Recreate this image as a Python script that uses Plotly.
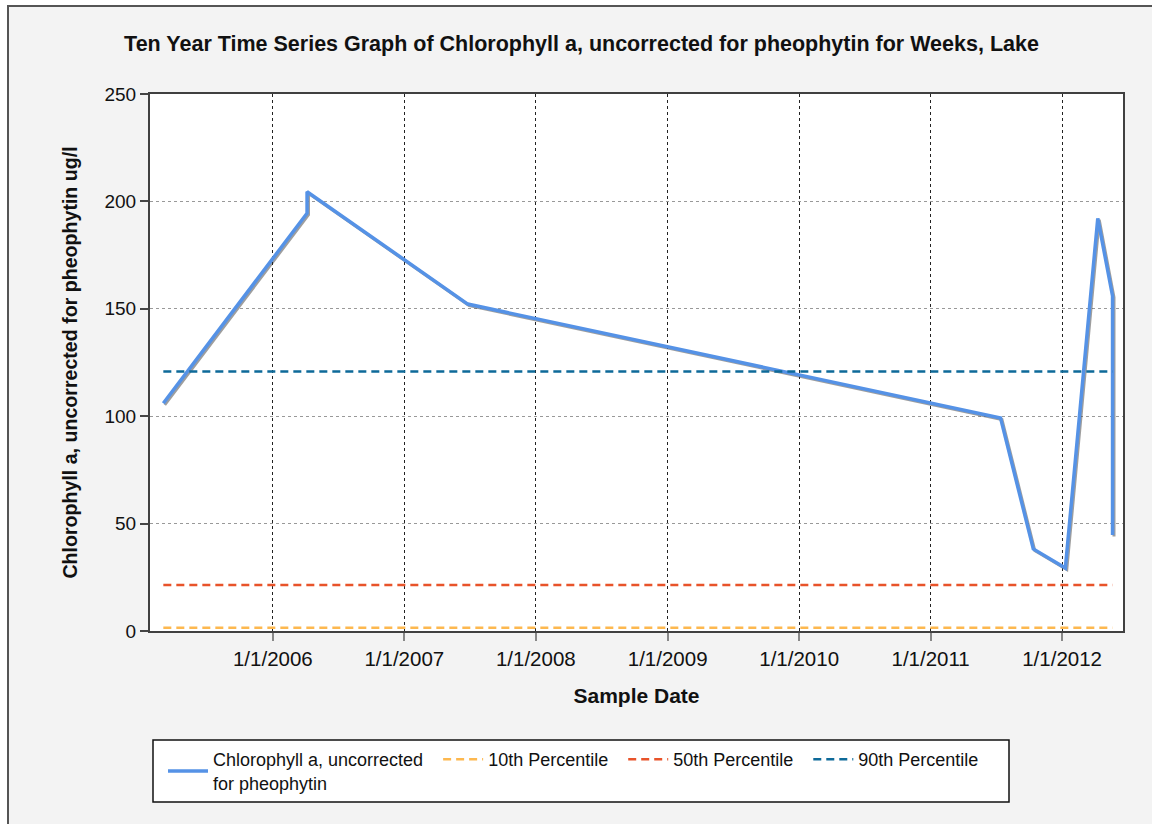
import plotly.graph_objects as go
import pandas as pd

# ---- data ----
dates = ["2005-03-03", "2006-04-06", "2006-04-06", "2007-06-26", "2011-07-14",
         "2011-10-13", "2012-01-10", "2012-04-09", "2012-05-20", "2012-05-20"]
chl = [106.0, 194.5, 204.5, 152.2, 99.2, 38.2, 29.3, 192.1, 156.0, 44.7]
p10 = 1.5
p50 = 21.4
p90 = 120.8
tick_dates = ["2006-01-01", "2007-01-01", "2008-01-01", "2009-01-01",
              "2010-01-01", "2011-01-01", "2012-01-01"]
tick_labels = ["1/1/2006", "1/1/2007", "1/1/2008", "1/1/2009",
               "1/1/2010", "1/1/2011", "1/1/2012"]
x_range = ["2005-01-25", "2012-06-18"]

FONT = "Liberation Sans, Arial, sans-serif"
BLUE = "#5592E6"
PAD = "\u00a0\u00a0"

d = pd.to_datetime(pd.Series(dates))
first, last = d.min(), d.max()

OX, OY = 7, 5          # page offset of the figure (white strip outside the frame)
W, H = 1152 - OX, 824 - OY
L, R, T, B = 150 - OX, 29, 94 - OY, 193
PW, PH = W - L - R, H - T - B


def px_x(x):  # page pixel -> paper x
    return (x - OX - L) / PW


def px_y(y):  # page pixel -> paper y
    return 1 - (y - OY - T) / PH


fig = go.Figure()

# soft drop shadow under the main series
fig.add_trace(go.Scatter(
    x=d + pd.Timedelta(days=4), y=[v - 0.7 for v in chl], mode="lines",
    line=dict(color="rgba(40,40,40,0.45)", width=3), showlegend=False, hoverinfo="skip"))

fig.add_trace(go.Scatter(
    x=d, y=chl, mode="lines", name="Chlorophyll a, uncorrected" + PAD + "<br>for pheophytin",
    line=dict(color=BLUE, width=3.5)))

for val, name, col in [(p10, "10th Percentile", "#FDB84F"),
                       (p50, "50th Percentile", "#E8532A"),
                       (p90, "90th Percentile", "#0E6A99")]:
    fig.add_trace(go.Scatter(
        x=[first, last], y=[val, val], mode="lines", name=name + PAD,
        line=dict(color=col, width=2.5, dash="8px,5px")))

fig.update_layout(
    width=W, height=H,
    margin=dict(l=L, r=R, t=T, b=B),
    paper_bgcolor="#F3F3F3", plot_bgcolor="white",
    font=dict(family=FONT, size=19, color="#111"),
    title=dict(text="<b>Ten Year Time Series Graph of Chlorophyll a, uncorrected for pheophytin for Weeks, Lake</b>",
               x=(581.5 - OX) / W, xanchor="center", xref="container", y=1 - (43 - OY) / H,
               yanchor="middle", font=dict(size=21.5, color="#111")),
    legend=dict(orientation="h", x=px_x(163), xanchor="left",
                y=px_y(741), yanchor="top",
                bgcolor="rgba(0,0,0,0)", borderwidth=0,
                font=dict(size=18, color="#111"), tracegroupgap=0,
                itemwidth=40),
    shapes=[
        # legend box
        dict(type="rect", xref="paper", yref="paper", x0=px_x(153), x1=px_x(1009),
             y0=px_y(740), y1=px_y(802), fillcolor="white", line=dict(color="#111", width=1.5),
             layer="below"),
        # outer frame (top and left)
        dict(type="line", xref="paper", yref="paper", x0=px_x(OX), x1=1.1,
             y0=px_y(OY + 1), y1=px_y(OY + 1), line=dict(color="#555", width=2)),
        dict(type="line", xref="paper", yref="paper", x0=px_x(OX + 1), x1=px_x(OX + 1),
             y0=1.2, y1=-0.4, line=dict(color="#555", width=2)),
    ],
)

fig.update_xaxes(
    type="date", range=x_range, tickvals=tick_dates, ticktext=tick_labels,
    tickfont=dict(size=20.5),
    showgrid=True, gridcolor="#222", griddash="dot", gridwidth=1,
    showline=True, linecolor="#404040", linewidth=2, mirror=True,
    ticks="outside", ticklen=8, tickcolor="#888", tickwidth=1.5,
    title=dict(text="<b>Sample Date</b>", standoff=20, font=dict(size=21)),
    zeroline=False,
)
fig.update_yaxes(
    range=[0, 250], tickvals=[0, 50, 100, 150, 200, 250],
    tickfont=dict(size=19),
    showgrid=True, gridcolor="#999", griddash="dot", gridwidth=1,
    showline=True, linecolor="#404040", linewidth=2, mirror=True,
    ticks="outside", ticklen=8, tickcolor="#444", tickwidth=2,
    title=dict(text="<b>Chlorophyll a, uncorrected for pheophytin ug/l</b>", standoff=22,
               font=dict(size=19.6)),
    zeroline=False,
)

fig.write_html("out.html",
               post_script="document.body.style.margin='%dpx 0 0 %dpx';"
                           "document.documentElement.style.overflow='hidden';" % (OY, OX))
